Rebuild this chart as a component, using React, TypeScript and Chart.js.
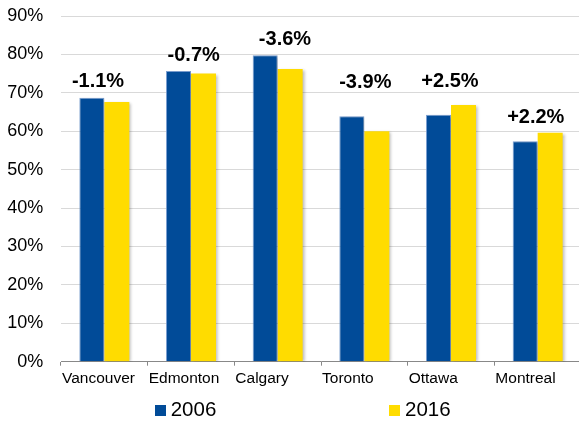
import React, { useEffect, useRef } from "react";
import { Chart, registerables } from "chart.js";

Chart.register(...registerables);

const categories = ["Vancouver", "Edmonton", "Calgary", "Toronto", "Ottawa", "Montreal"];
const series2006 = [68.7, 75.7, 79.8, 63.9, 64.3, 57.4];
const series2016 = [67.6, 75.0, 76.2, 60.0, 66.8, 59.6];
const changeLabels = ["-1.1%", "-0.7%", "-3.6%", "-3.9%", "+2.5%", "+2.2%"];
const yTicks = [0, 10, 20, 30, 40, 50, 60, 70, 80, 90];

// layout only (pixel nudges of the change labels, as placed in the original)
const labelLift = [11, 10, 10.3, 28.4, 18.3, 9.7];
const labelDx = [-6.3, 2.7, 7.3, 1, -1, -1.9];

const FONT = "'Liberation Sans', Arial, sans-serif";
const BLUE = "#014b98";
const YELLOW = "#ffdc00";

const shadowPlugin = {
  id: "barShadow",
  beforeDatasetsDraw(chart: any) {
    const ctx = chart.ctx;
    ctx.save();
    ctx.shadowColor = "rgba(0,0,0,0.28)";
    ctx.shadowBlur = 3;
    ctx.shadowOffsetX = 2;
    ctx.shadowOffsetY = 1;
  },
  afterDatasetsDraw(chart: any) {
    chart.ctx.restore();
  },
};

const changeLabelPlugin = {
  id: "changeLabels",
  afterDatasetsDraw(chart: any) {
    const ctx = chart.ctx;
    const m0 = chart.getDatasetMeta(0);
    const m1 = chart.getDatasetMeta(1);
    ctx.save();
    ctx.font = `bold 20px ${FONT}`;
    ctx.fillStyle = "#000";
    ctx.textAlign = "center";
    ctx.textBaseline = "alphabetic";
    changeLabels.forEach((t, i) => {
      const b0 = m0.data[i];
      const b1 = m1.data[i];
      const top = Math.min(b0.y, b1.y);
      const cx = (b0.x + b1.x) / 2;
      ctx.fillText(t, cx + labelDx[i], top - labelLift[i]);
    });
    ctx.restore();
  },
};

const legendPlugin = {
  id: "customLegend",
  afterDraw(chart: any) {
    const ctx = chart.ctx;
    const items = [
      { boxX: 155, textX: 170.7 },
      { boxX: 389, textX: 405 },
    ];
    ctx.save();
    ctx.font = `20.5px ${FONT}`;
    ctx.textBaseline = "alphabetic";
    ctx.textAlign = "left";
    chart.data.datasets.forEach((ds: any, i: number) => {
      const it = items[i];
      ctx.fillStyle = ds.backgroundColor;
      ctx.fillRect(it.boxX, 405, 11, 11);
      ctx.fillStyle = "#000";
      ctx.fillText(ds.label, it.textX, 416);
    });
    ctx.restore();
  },
};

export default function App() {
  const ref = useRef<HTMLCanvasElement | null>(null);

  useEffect(() => {
    if (!ref.current) return;
    const chart = new Chart(ref.current, {
      type: "bar",
      data: {
        labels: categories,
        datasets: [
          {
            label: "2006",
            data: series2006,
            backgroundColor: BLUE,
            borderColor: "rgba(110,150,205,0.9)",
            borderWidth: 1,
            categoryPercentage: 0.577,
            barPercentage: 1,
          },
          {
            label: "2016",
            data: series2016,
            backgroundColor: YELLOW,
            borderWidth: 0,
            categoryPercentage: 0.577,
            barPercentage: 1,
          },
        ],
      },
      options: {
        animation: false,
        responsive: false,
        maintainAspectRatio: false,
        devicePixelRatio: 1,
        layout: { padding: { top: 16, right: 0, bottom: 34.3, left: 0 } },
        plugins: {
          legend: { display: false },
          tooltip: { enabled: false },
        },
        scales: {
          x: {
            offset: true,
            grid: {
              offset: true,
              drawOnChartArea: false,
              drawTicks: true,
              tickLength: 4,
              color: "#888888",
            },
            border: { display: true, color: "#888888", width: 1 },
            ticks: {
              align: "start",
              labelOffset: -42.3,
              padding: 3.3,
              color: "#000",
              font: { family: FONT, size: 15.5 },
              maxRotation: 0,
              autoSkip: false,
            },
            afterFit(scale: any) {
              scale.height = 25;
              scale.paddingLeft = 0;
              scale.paddingRight = 0;
            },
          },
          y: {
            min: 0,
            max: 90,
            afterBuildTicks(scale: any) {
              scale.ticks = yTicks.map((v) => ({ value: v }));
            },
            grid: { color: "#d9d9d9", lineWidth: 1, drawTicks: false },
            border: { display: false },
            ticks: {
              padding: 17.7,
              color: "#000",
              font: { family: FONT, size: 18 },
              callback: (v: any) => `${v}%`,
            },
            afterFit(scale: any) {
              scale.width = 61;
              scale.paddingTop = 0;
              scale.paddingBottom = 0;
            },
          },
        },
      } as any,
      plugins: [shadowPlugin, changeLabelPlugin, legendPlugin],
    });
    return () => chart.destroy();
  }, []);

  return (
    <div
      style={{
        position: "absolute",
        left: 0,
        top: 0,
        width: 579,
        height: 421,
        overflow: "hidden",
        background: "#fff",
      }}
    >
      <canvas ref={ref} width={581} height={421} style={{ width: 581, height: 421, display: "block" }} />
    </div>
  );
}
